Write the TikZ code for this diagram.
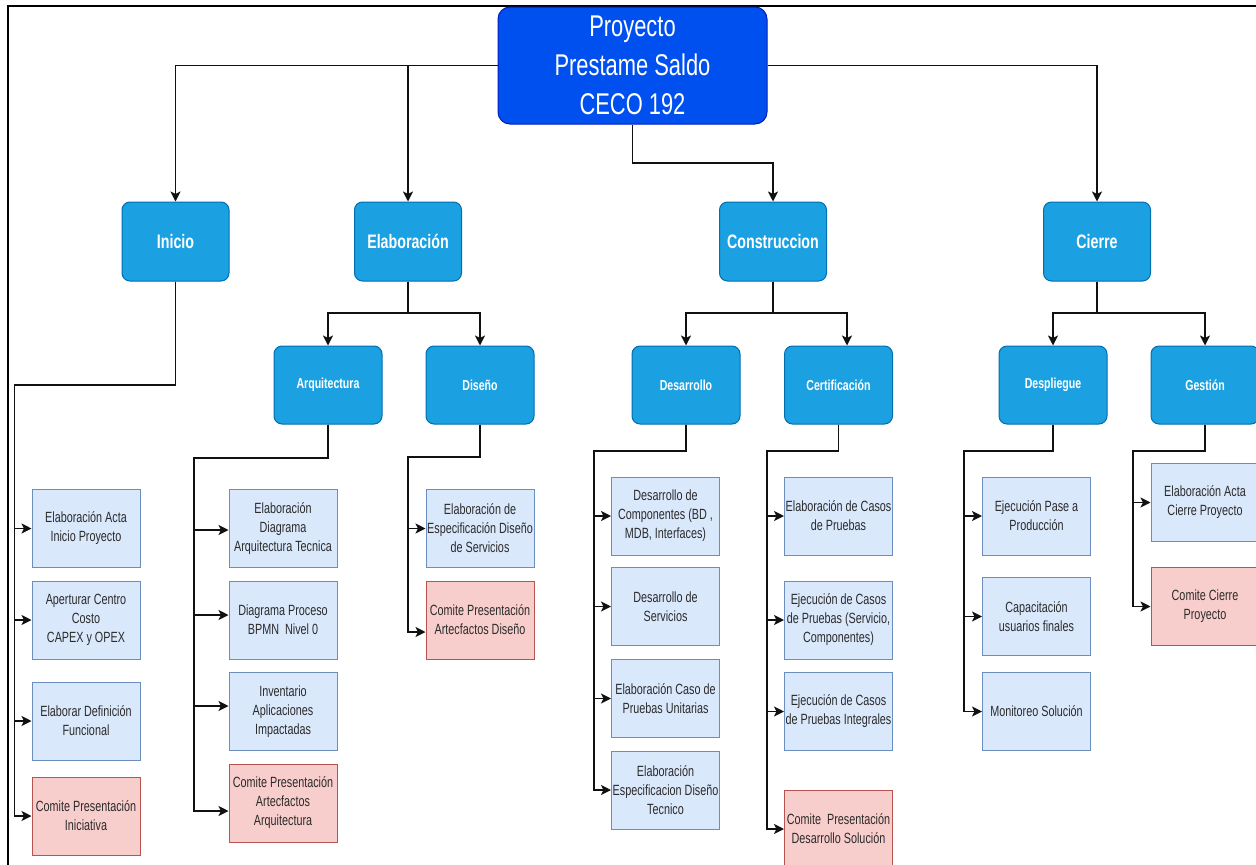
\documentclass[tikz,border=0pt]{standalone}
\usepackage{fontspec}
\setmainfont{Liberation Sans}[FakeStretch=0.73]
\usetikzlibrary{arrows.meta}

\definecolor{rootfill}{HTML}{0050EF}
\definecolor{rootline}{HTML}{001DBC}
\definecolor{phasefill}{HTML}{1BA1E2}
\definecolor{phaseline}{HTML}{006EAF}
\definecolor{taskfill}{HTML}{DAE8FC}
\definecolor{taskline}{HTML}{6C8EBF}
\definecolor{gatefill}{HTML}{F8CECC}
\definecolor{gateline}{HTML}{B85450}
\definecolor{tasktext}{HTML}{2B2B2B}
\definecolor{linkc}{HTML}{111111}

\tikzset{
  tipclassic/.tip={Stealth[length=10pt, width=10pt, inset=2.5pt]},
}

\begin{document}
\begin{tikzpicture}[x=1pt,y=-1pt,
  rootbox/.style={draw=rootline, fill=rootfill, rounded corners=12pt, line width=1pt,
    minimum width=269pt, minimum height=117pt, inner sep=0pt, align=center,
    text=white, font=\fontsize{30}{39}\selectfont},
  phasebox/.style={draw=phaseline, fill=phasefill, rounded corners=8pt, line width=1pt,
    minimum width=107pt, minimum height=79pt, inner sep=0pt, align=center,
    text=white, font=\fontsize{19.5}{23}\selectfont\bfseries},
  subbox/.style={phasebox, minimum width=108pt, minimum height=78pt,
    font=\fontsize{14.5}{18}\selectfont\bfseries},
  taskbox/.style={draw=taskline, fill=taskfill, line width=1pt,
    minimum width=108pt, minimum height=78pt, inner sep=0pt, align=center,
    text=tasktext, font=\fontsize{14.8}{19}\selectfont},
  gatebox/.style={taskbox, draw=gateline, fill=gatefill},
  link/.style={draw=linkc, line width=1.4pt, arrows={-tipclassic}},
  frameline/.style={draw=black, line width=1.4pt}]

\path[use as bounding box] (0,0) rectangle (1256,865);
\clip (0,0) rectangle (1256,865);

% outer frame
\coordinate (fTR) at (1256,6);
\coordinate (fTL) at (8,6);
\coordinate (fBL) at (8,866);
\draw[frameline] (fTR) -- (fTL) -- (fBL);

% project
\node[rootbox] (root) at (632.5,65.5) {Proyecto\\Prestame Saldo\\CECO 192};

% phases
\node[phasebox] (ini) at (175.5,241.5) {Inicio};
\node[phasebox] (ela) at (408,241.5) {Elaboración};
\node[phasebox] (con) at (773,241.5) {Construccion};
\node[phasebox] (cie) at (1097,241.5) {Cierre};

% sub-phases
\node[subbox] (arq) at (328,385) {Arquitectura};
\node[subbox] (dis) at (480,385) {Diseño};
\node[subbox] (des) at (686,385) {Desarrollo};
\node[subbox] (cer) at (838.5,385) {Certificación};
\node[subbox] (dep) at (1053,385) {Despliegue};
\node[subbox] (ges) at (1205,385) {Gestión};

% Inicio tasks
\node[taskbox] (i1) at (86,528.5) {Elaboración Acta\\Inicio Proyecto};
\node[taskbox] (i2) at (86,620) {Aperturar Centro\\Costo\\CAPEX y OPEX};
\node[taskbox] (i3) at (86,721) {Elaborar Definición\\Funcional};
\node[gatebox] (i4) at (86,816) {Comite Presentación\\Iniciativa};

% Arquitectura tasks
\node[taskbox] (a1) at (283,528.5) {Elaboración\\Diagrama\\Arquitectura Tecnica};
\node[taskbox] (a2) at (283,620) {Diagrama Proceso\\BPMN~~Nivel 0};
\node[taskbox] (a3) at (283,711.5) {Inventario\\Aplicaciones\\Impactadas};
\node[gatebox] (a4) at (283,803) {Comite Presentación\\Artecfactos\\Arquitectura};

% Diseño tasks
\node[taskbox] (d1) at (480,528.5) {Elaboración de\\Especificación Diseño\\de Servicios};
\node[gatebox] (d2) at (480,620) {Comite Presentación\\Artecfactos Diseño};

% Desarrollo tasks
\node[taskbox] (s1) at (665.5,516) {Desarrollo de\\Componentes (BD ,\\MDB, Interfaces)};
\node[taskbox] (s2) at (665.5,606.5) {Desarrollo de\\Servicios};
\node[taskbox] (s3) at (665.5,698.5) {Elaboración Caso de\\Pruebas Unitarias};
\node[taskbox] (s4) at (665.5,790) {Elaboración\\Especificacion Diseño\\Tecnico};

% Certificación tasks
\node[taskbox] (c1) at (838.5,516) {Elaboración de Casos\\de Pruebas};
\node[taskbox] (c2) at (838.5,620) {Ejecución de Casos\\de Pruebas (Servicio,\\Componentes)};
\node[taskbox] (c3) at (838.5,711.5) {Ejecución de Casos\\de Pruebas Integrales};
\node[gatebox] (c4) at (838.5,829) {Comite~~Presentación\\Desarrollo Solución};

% Despliegue tasks
\node[taskbox] (p1) at (1036.5,516) {Ejecución Pase a\\Producción};
\node[taskbox] (p2) at (1036.5,616.5) {Capacitación\\usuarios finales};
\node[taskbox] (p3) at (1036.5,711.5) {Monitoreo Solución};

% Gestión tasks
\node[taskbox] (g1) at (1205,502.5) {Elaboración Acta\\Cierre Proyecto};
\node[gatebox] (g2) at (1205,606.5) {Comite Cierre\\Proyecto};

% project -> phases
\coordinate (jR) at (632.5,163);
\draw[link] (root.west) -| (ini.north);
\draw[link] (root.west) -| (ela.north);
\draw[link] (root.east) -| (cie.north);
\draw[link] (root.south) -- (jR) -| (con.north);

% phases -> sub-phases
\coordinate (kE) at (408,313);
\coordinate (kC) at (773,313);
\coordinate (kZ) at (1097,313);
\draw[link] (ela.south) -- (kE) -| (arq.north);
\draw[link] (ela.south) -- (kE) -| (dis.north);
\draw[link] (con.south) -- (kC) -| (des.north);
\draw[link] (con.south) -- (kC) -| ([xshift=8.5pt]cer.north);
\draw[link] (cie.south) -- (kZ) -| (dep.north);
\draw[link] (cie.south) -- (kZ) -| (ges.north);

% trunk corners
\coordinate (jI) at (14.5,385);
\coordinate (jA) at (194,458);
\coordinate (jD) at (408,457);
\coordinate (jS) at (594,451);
\coordinate (jC) at (767,451);
\coordinate (jP) at (964,451);
\coordinate (jG) at (1133,451);

% Inicio
\foreach \t in {i1,i2,i3,i4}
  \draw[link] (ini.south) |- (jI) |- (\t.west);
% Arquitectura
\draw[link] (arq.south) |- (jA) |- ([yshift=-1.5pt]a1.west);
\draw[link] (arq.south) |- (jA) |- ([yshift=5pt]a2.west);
\draw[link] (arq.south) |- (jA) |- ([yshift=5.5pt]a3.west);
\draw[link] (arq.south) |- (jA) |- ([yshift=-8pt]a4.west);
% Diseño
\draw[link] (dis.south) |- (jD) |- (d1.west);
\draw[link] (dis.south) |- (jD) |- ([yshift=-12pt]d2.west);
% Desarrollo
\foreach \t in {s1,s2,s3,s4}
  \draw[link] (des.south) |- (jS) |- (\t.west);
% Certificación
\foreach \t in {c1,c2,c3,c4}
  \draw[link] (cer.south) |- (jC) |- (\t.west);
% Despliegue
\foreach \t in {p1,p2,p3}
  \draw[link] (dep.south) |- (jP) |- (\t.west);
% Gestión
\foreach \t in {g1,g2}
  \draw[link] (ges.south) |- (jG) |- (\t.west);

\end{tikzpicture}
\end{document}
